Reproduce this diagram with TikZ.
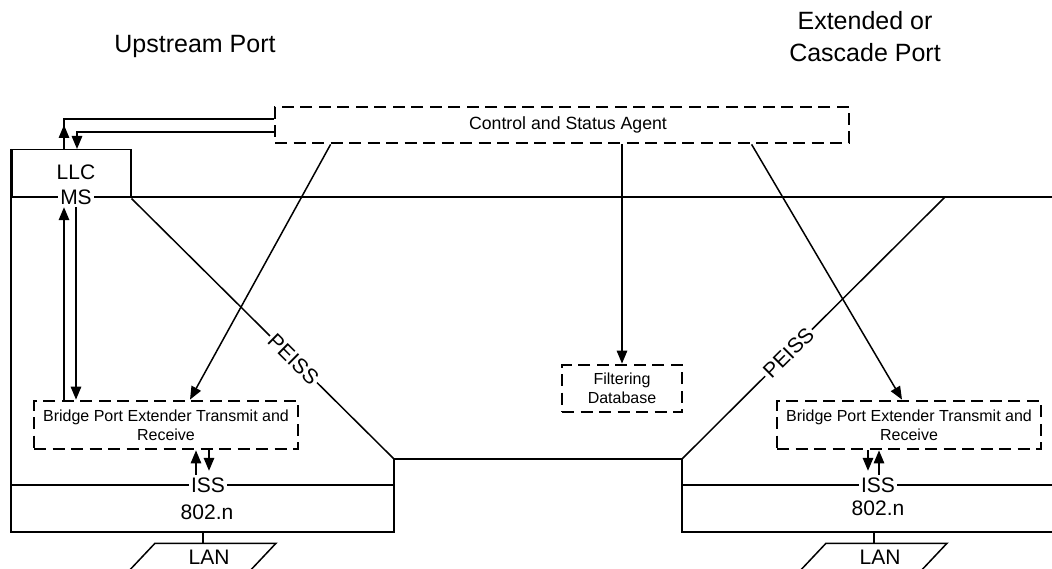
\documentclass[tikz,border=0pt]{standalone}
\usepackage{fontspec}
\setmainfont{Liberation Sans}
\usetikzlibrary{arrows.meta,calc}
\begin{document}
\begin{tikzpicture}[x=1pt,y=-1pt,
  line width=1.5pt,
  arr/.style={-{Triangle[length=13pt,width=10.5pt]}},
  dbox/.style={draw,line width=2.8pt,dash pattern=on 12pt off 6.5pt,align=center,inner sep=2pt},
  big/.style={font=\fontsize{25}{32}\selectfont,align=center},
  lbl/.style={font=\fontsize{21}{25}\selectfont,inner sep=2pt},
  wlbl/.style={lbl,fill=white},
  small/.style={font=\fontsize{16}{19}\selectfont},
  lanbox/.style={minimum width=119.5pt,minimum height=25pt,inner sep=0pt},
]
\useasboundingbox (0,0) rectangle (1052,569);

% port titles
\node[big] (upt) at (195,46) {Upstream Port};
\node[big] (ext) at (865,37) {Extended or\\Cascade Port};

% control and status agent
\node[dbox,minimum width=574pt,minimum height=36pt,font=\fontsize{17.7}{21}\selectfont] (csa) at (562,125) {\hspace*{12pt}Control and Status Agent};

% upstream port stack
\node[draw,minimum width=119pt,minimum height=48pt,anchor=north west,inner sep=0pt] (llc) at (11,149) {};
\node[lbl] (llct) at (76,172) {LLC};
\coordinate (tl) at (11,149);
\coordinate (bl) at (11,532);
\coordinate (br) at (394,532);
\coordinate (mid1) at (394,459);
\coordinate (mid2) at (682,459);
\coordinate (rb) at (682,532);
\coordinate (re) at (1052,532);
\coordinate (mse) at (1052,197);
\coordinate (msw) at (11,197);
\coordinate (pr) at (945,197);
\coordinate (issLw) at (11,485);
\coordinate (issLe) at (394,485);
\coordinate (issRw) at (682,485);
\coordinate (issRe) at (1052,485);

\draw (tl) -- (bl) -- (br) -- (mid1) -- (mid2) -- (rb) -- (re);
\draw (msw) -- (mse);
\draw (issLw) -- (issLe);
\draw (issRw) -- (issRe);

% PEISS diagonals
\draw (llc.south east) -- node[wlbl,sloped,pos=0.617] (peL) {PEISS} (mid1);
\draw (mid2) -- node[wlbl,sloped,pos=0.405] (peR) {PEISS} (pr);

\node[wlbl] (ms) at (76,197) {MS};
\node[wlbl] (issL) at (208,485) {ISS};
\node[wlbl] (issR) at (878,485) {ISS};
\node[lbl] (nL) at (207,512) {802.n};
\node[lbl] (nR) at (878,508) {802.n};

% bridge port extender functions and filtering database
\node[dbox,small,minimum width=264pt,minimum height=48pt] (bpL) at (166,425) {Bridge Port Extender Transmit and\\Receive};
\node[dbox,small,minimum width=264pt,minimum height=48pt] (bpR) at (909,425) {Bridge Port Extender Transmit and\\Receive};
\node[dbox,small,minimum width=120pt,minimum height=47pt] (fdb) at (622,388.5) {Filtering\\Database};

% LANs
\node[lanbox] (lanL) at (203,556.5) {};
\node[lanbox] (lanR) at (874,556.5) {};
\draw ($(lanL.north west)+(12.5,0)$) -- ($(lanL.north east)+(12.5,0)$) -- ($(lanL.south east)+(-12.5,0)$) -- ($(lanL.south west)+(-12.5,0)$) -- cycle;
\draw ($(lanR.north west)+(12.5,0)$) -- ($(lanR.north east)+(12.5,0)$) -- ($(lanR.south east)+(-12.5,0)$) -- ($(lanR.south west)+(-12.5,0)$) -- cycle;
\node[lbl] (lanLt) at (209,557) {LAN};
\node[lbl] (lanRt) at (880,557) {LAN};
\draw[line width=2.8pt] (lanL.north) -- (lanL.north |- bl);
\draw[line width=2.8pt] (lanR.north) -- (lanR.north |- re);

% x positions of the paired service arrows
\coordinate (xu) at (64,0);
\coordinate (xd) at (77,0);
\coordinate (xd2) at (76,0);
\coordinate (iu) at (196,0);
\coordinate (id) at (209,0);
\coordinate (ju) at (879,0);
\coordinate (jd) at (868,0);

% LLC <-> control and status agent
\draw ([xshift=53]llc.north west) |- ([yshift=6]csa.west);
\draw[arr] ([xshift=53]llc.north west) -- ([xshift=53,yshift=24]llc.north west);
\draw[arr] ([yshift=-7]csa.west) -| (xd |- llc.north);

% MS <-> bridge port extender (upstream)
\draw[arr] (xu |- bpL.north) -- (xu |- ms.south);
\draw[arr] (xd2 |- ms.south) -- (xd2 |- bpL.north);

% bridge port extender <-> ISS
\draw[arr] (iu |- issL.north) -- (iu |- bpL.south);
\draw[arr] (id |- bpL.south) -- ([yshift=4]id |- issL.north);
\draw[arr] (ju |- issR.north) -- (ju |- bpR.south);
\draw[arr] (jd |- bpR.south) -- ([yshift=4]jd |- issR.north);

% control and status agent to the functions it manages
\draw[arr] ([xshift=57]csa.south west) -- ([xshift=24]bpL.north);
\draw[arr] ([xshift=478]csa.south west) -- ([xshift=-7]bpR.north);
\draw[arr] (fdb.north |- csa.south) -- (fdb.north);
\end{tikzpicture}
\end{document}
